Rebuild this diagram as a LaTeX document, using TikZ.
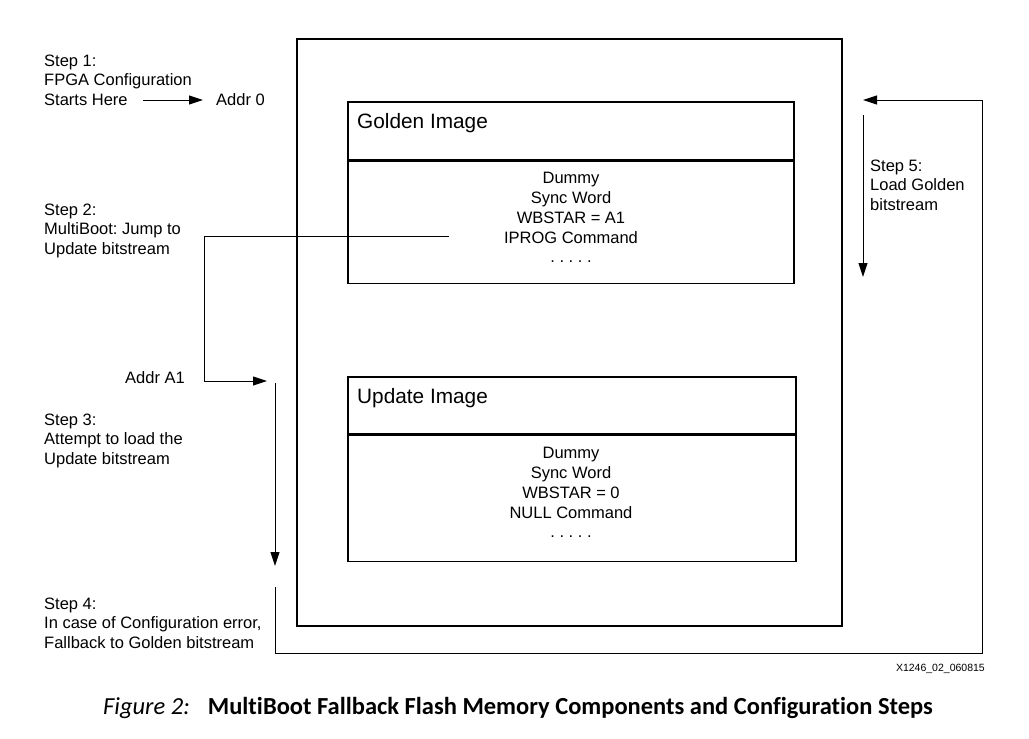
\documentclass[tikz,border=0pt]{standalone}
\usepackage{fontspec}
\setmainfont{Liberation Sans}
\newfontfamily\capfont[Ligatures=NoCommon]{Carlito}
\usetikzlibrary{arrows.meta}
\frenchspacing
\begin{document}
\begin{tikzpicture}[x=1pt,y=-1pt,
  lbl/.style={inner sep=0pt, anchor=base west, align=left, font=\fontsize{16.5}{19.5}\selectfont},
  ctr/.style={inner sep=0pt, anchor=base, align=center, font=\fontsize{16.5}{20}\selectfont},
  ttl/.style={inner sep=0pt, anchor=base west, font=\fontsize{20.8}{24}\selectfont},
  imgbox/.style={draw, line width=1.6pt, inner sep=0pt, anchor=north west},
  conn/.style={line width=1pt},
  arr/.style={line width=1pt, -{Triangle[length=14pt,width=9pt]}}
]
\useasboundingbox (0,0) rectangle (1029,739);
% outer flash box
\node[draw, line width=2pt, inner sep=0pt, anchor=north west, minimum width=545pt, minimum height=587pt] (flash) at (296,38) {};
% golden image
\node[imgbox, minimum width=446pt, minimum height=58pt] (ghead) at (347,101) {};
\node[imgbox, minimum width=446pt, minimum height=122pt] (gbody) at (ghead.south west) {};
\node[ttl] (gtitle) at (357,128) {Golden Image};
\node[ctr] (g1) at (571,183) {Dummy};
\node[ctr] (g2) at (571,203) {Sync Word};
\node[ctr] (g3) at (571,223) {WBSTAR = A1};
\node[ctr] (g4) at (571,243) {IPROG Command};
\node[ctr] (g5) at (571,262) {. . . . .};
% update image
\node[imgbox, minimum width=448pt, minimum height=57pt] (uhead) at (347,376) {};
\node[imgbox, minimum width=448pt, minimum height=126pt] (ubody) at (uhead.south west) {};
\node[ttl] (utitle) at (357,403) {Update Image};
\node[ctr] (u1) at (571,458) {Dummy};
\node[ctr] (u2) at (571,478) {Sync Word};
\node[ctr] (u3) at (571,498) {WBSTAR = 0};
\node[ctr] (u4) at (571,518) {NULL Command};
\node[ctr] (u5) at (571,537) {. . . . .};
% step labels (base anchor = last line)
\node[lbl] (st1) at (44,105) {Step 1:\\FPGA Configuration\\Starts Here};
\node[lbl] (addr0) at (216,105) {Addr 0};
\node[lbl] (st2) at (44,254) {Step 2:\\MultiBoot: Jump to\\Update bitstream};
\node[lbl] (addra1) at (125,383) {Addr A1};
\node[lbl] (st3) at (44,464) {Step 3:\\Attempt to load the\\Update bitstream};
\node[lbl] (st4) at (44,648) {Step 4:\\In case of Configuration error,\\Fallback to Golden bitstream};
\node[lbl] (st5) at (870,210) {Step 5:\\Load Golden\\bitstream};
\node[inner sep=0pt, anchor=base east, font=\fontsize{10.5}{12}\selectfont] (xid) at (985,671) {X1246\_02\_060815};
\node[inner sep=0pt, anchor=base west, font=\capfont\fontsize{24.5}{28}\selectfont] (cap) at (103,714) {\textit{Figure 2:}\hspace{18pt}\textbf{MultiBoot Fallback Flash Memory Components and Configuration Steps}};
% connector coordinates
\coordinate (s1a) at (143,100);
\coordinate (s1b) at (203,100);
\coordinate (j0) at (449,236);
\coordinate (j1) at (204,236);
\coordinate (j2) at (204,381);
\coordinate (j3) at (267,381);
\coordinate (t0) at (275,383);
\coordinate (t1) at (275,566);
\coordinate (f0) at (275,587);
\coordinate (f1) at (275,653);
\coordinate (f2) at (982,653);
\coordinate (f3) at (982,100);
\coordinate (f4) at (863,100);
\coordinate (l0) at (863,115);
\coordinate (l1) at (863,277);
% connectors
\draw[arr] (s1a) -- (s1b);
\draw[arr] (j0) -- (j1) -- (j2) -- (j3);
\draw[arr] (t0) -- (t1);
\draw[arr] (f0) -- (f1) -- (f2) -- (f3) -- (f4);
\draw[arr] (l0) -- (l1);
\end{tikzpicture}
\end{document}
